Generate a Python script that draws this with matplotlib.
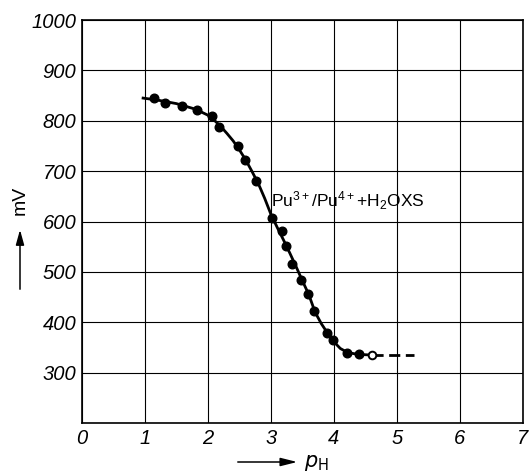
#!/usr/bin/env python

import matplotlib

matplotlib.use("Agg")
import matplotlib.pyplot as plt

# measured points (pH, mV)
ph_points = [1.15, 1.32, 1.59, 1.82, 2.06, 2.18, 2.47, 2.59, 2.76, 3.02, 3.17,
             3.24, 3.34, 3.48, 3.58, 3.68, 3.89, 3.98, 4.20, 4.40]
mv_points = [845, 836, 830, 822, 809, 787, 749, 722, 680, 607, 582,
             551, 515, 484, 456, 423, 379, 365, 338, 336]

# open (last) point
ph_open = [4.60]
mv_open = [335]

# drawn curve
curve_ph = [0.97, 1.2, 1.5, 1.8, 2.0, 2.1, 2.2, 2.3, 2.4, 2.5, 2.6, 2.7, 2.8,
            2.9, 3.0, 3.1, 3.2, 3.3, 3.4, 3.5, 3.6, 3.7, 3.8, 3.9, 4.0, 4.1,
            4.2, 4.3, 4.4, 4.6]
curve_mv = [845, 841, 834, 823, 811, 801, 789, 775, 760, 742, 722, 699, 675,
            646, 614, 588, 563, 537, 510, 482, 455, 420, 397, 378, 361, 348,
            341, 338, 336, 335]

# dashed extension
dash_ph = [4.6, 5.27]
dash_mv = [335, 335]

x_ticks = [0, 1, 2, 3, 4, 5, 6, 7]
y_ticks = [300, 400, 500, 600, 700, 800, 900, 1000]

plt.rcParams["font.family"] = ["Liberation Sans", "DejaVu Sans"]
plt.rcParams["mathtext.default"] = "regular"

fig = plt.figure(figsize=(5.31, 4.74), dpi=100)
ax = fig.add_axes([0.1544, 0.1076, 0.8305, 0.8502])

ax.set_xlim(0, 7)
ax.set_ylim(200, 1000)
ax.set_xticks(x_ticks)
ax.set_yticks(y_ticks + [200])
ax.set_xticklabels([str(t) for t in x_ticks], fontstyle="italic", fontsize=14.5)
ax.set_yticklabels([str(t) for t in y_ticks] + [""], fontstyle="italic", fontsize=14.5)
ax.tick_params(length=0, pad=4)
ax.grid(True, color="black", linewidth=0.8)
for s in ax.spines.values():
    s.set_linewidth(1.2)

ax.plot(curve_ph, curve_mv, color="black", linewidth=2.0, zorder=3)
ax.plot(dash_ph, dash_mv, color="black", linewidth=2.0, dashes=(4, 2), zorder=3)
ax.plot(ph_points, mv_points, "o", color="black", markersize=6.2, zorder=4)
ax.plot(ph_open, mv_open, "o", markerfacecolor="white", markeredgecolor="black",
        markeredgewidth=1.4, markersize=5.5, zorder=4)

ax.text(3.0, 642, "Pu$^{3+}$/Pu$^{4+}$+H$_2$OXS", fontsize=12.5, ha="left", va="center")

# axis labels with arrows, as in the original
fig.text(20 / 531, 1 - 200 / 474, "mV", rotation=90, fontsize=14, ha="center", va="center")
fig.add_artist(matplotlib.patches.FancyArrowPatch(
    (20 / 531, 1 - 292 / 474), (20 / 531, 1 - 227 / 474), transform=fig.transFigure,
    arrowstyle="-|>,head_length=9,head_width=2.5", color="black", linewidth=1.1))
fig.add_artist(matplotlib.patches.FancyArrowPatch(
    (235 / 531, 1 - 462 / 474), (300 / 531, 1 - 462 / 474), transform=fig.transFigure,
    arrowstyle="-|>,head_length=10,head_width=2.5", color="black", linewidth=1.1))
fig.text(304 / 531, 1 - 463 / 474, "$\\mathit{p}_{\\mathrm{H}}$", fontsize=15, ha="left", va="center")

fig.savefig("out.png", dpi=100)
